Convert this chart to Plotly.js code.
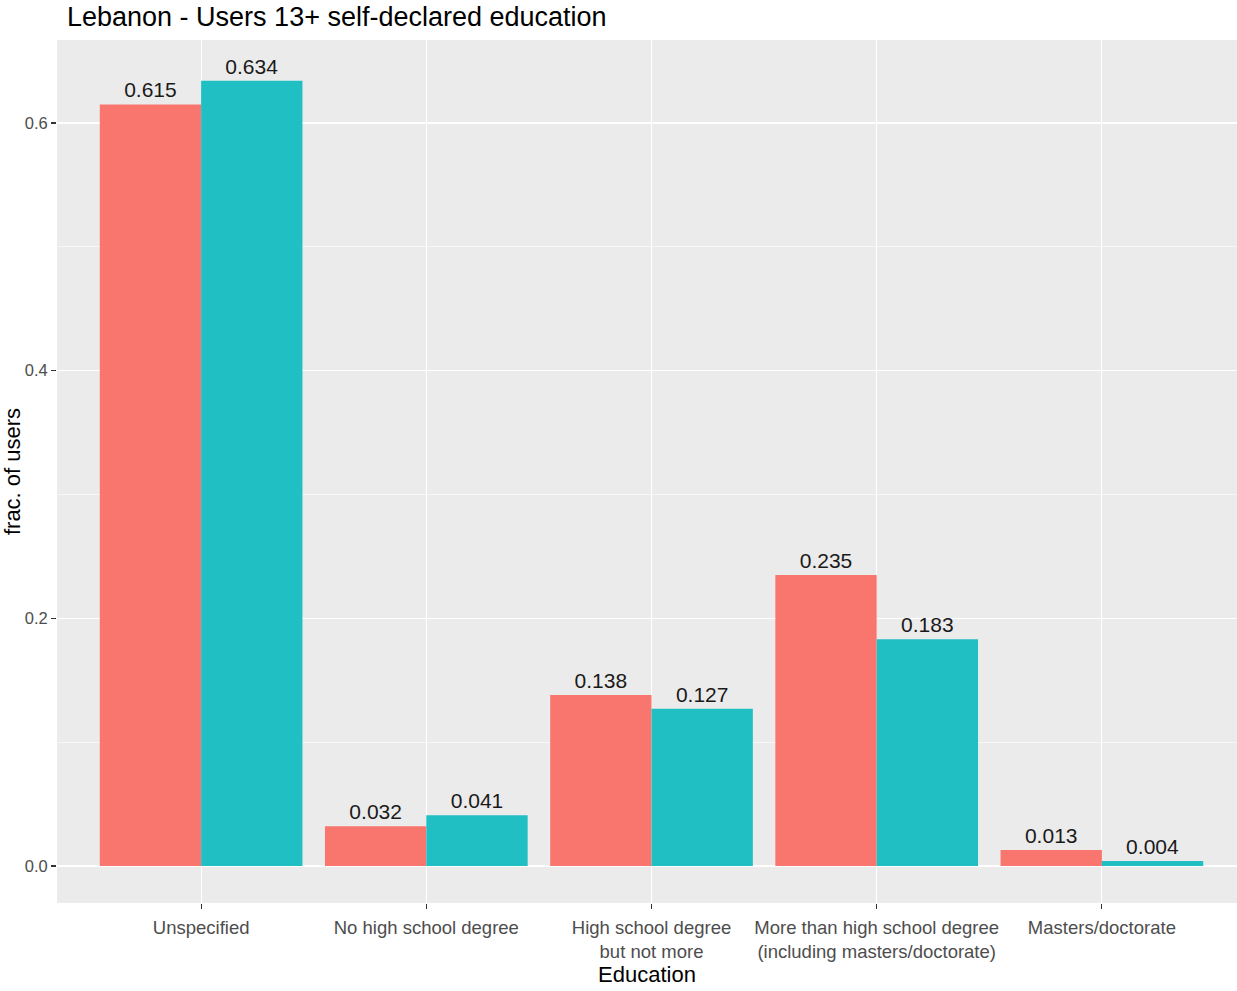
<!DOCTYPE html>
<html>
<head>
<meta charset="utf-8">
<script src="https://cdn.plot.ly/plotly-3.0.1.min.js"></script>
<style>html,body{margin:0;padding:0;background:#fff;}#chart{width:1237px;height:991px;}</style>
</head>
<body>
<div id="chart"></div>
<script>
const categories = ["Unspecified", "No high school degree", "High school degree<br>but not more", "More than high school degree<br>(including masters/doctorate)", "Masters/doctorate"];
const seriesA = [0.615, 0.032, 0.138, 0.235, 0.013];
const seriesB = [0.634, 0.041, 0.127, 0.183, 0.004];
const labelsA = ["0.615", "0.032", "0.138", "0.235", "0.013"];
const labelsB = ["0.634", "0.041", "0.127", "0.183", "0.004"];
const yTicks = [0, 0.2, 0.4, 0.6];
const yTickText = ["0.0", "0.2", "0.4", "0.6"];

const font = "Liberation Sans, Arial, sans-serif";
const xIdx = categories.map((_, i) => i);

const mk = (y, txt, color, name) => ({
  type: "bar", x: xIdx, y: y, text: txt, name: name,
  marker: {color: color, line: {width: 0}},
  textposition: "outside", cliponaxis: false,
  textfont: {family: font, size: 21, color: "#1a1a1a"},
  hoverinfo: "x+y"
});

const data = [mk(seriesA, labelsA, "#F8766D", "A"), mk(seriesB, labelsB, "#1FBFC4", "B")];

const layout = {
  width: 1237, height: 991,
  margin: {l: 57, r: 0, t: 40, b: 88, pad: 0},
  paper_bgcolor: "#fff", plot_bgcolor: "#EBEBEB",
  showlegend: false,
  barmode: "group", bargap: 0.1, bargroupgap: 0,
  font: {family: font},
  title: {text: "Lebanon - Users 13+ self-declared education", x: 67/1237, xanchor: "left", y: 1 - 17/991, yanchor: "middle", font: {family: font, size: 27, color: "#000"}},
  xaxis: {
    range: [-0.64, 4.6], tickmode: "array", tickvals: xIdx, ticktext: categories,
    showgrid: true, gridcolor: "#fff", gridwidth: 1.2, zeroline: false, showline: false,
    ticks: "outside", ticklen: 5, tickcolor: "#333", tickwidth: 1.2,
    ticklabelstandoff: 3,
    tickfont: {family: font, size: 18.5, color: "#4D4D4D"},
    title: {text: "Education", font: {family: font, size: 22, color: "#000"}, standoff: 4},
    fixedrange: true
  },
  yaxis: {
    range: [-0.0299, 0.667], tickmode: "array", tickvals: yTicks, ticktext: yTickText,
    showgrid: true, gridcolor: "#fff", gridwidth: 1.2, zeroline: false, showline: false,
    ticks: "outside", ticklen: 5, tickcolor: "#333", tickwidth: 1.2,
    tickfont: {family: font, size: 16.5, color: "#4D4D4D"},
    minor: {tickvals: [0.1, 0.3, 0.5], showgrid: true, gridcolor: "#fff", gridwidth: 0.6, ticks: ""},
    title: {text: "frac. of users", font: {family: font, size: 22, color: "#000"}, standoff: 6},
    fixedrange: true
  }
};

Plotly.newPlot("chart", data, layout, {displayModeBar: false, staticPlot: true});
</script>
</body>
</html>
